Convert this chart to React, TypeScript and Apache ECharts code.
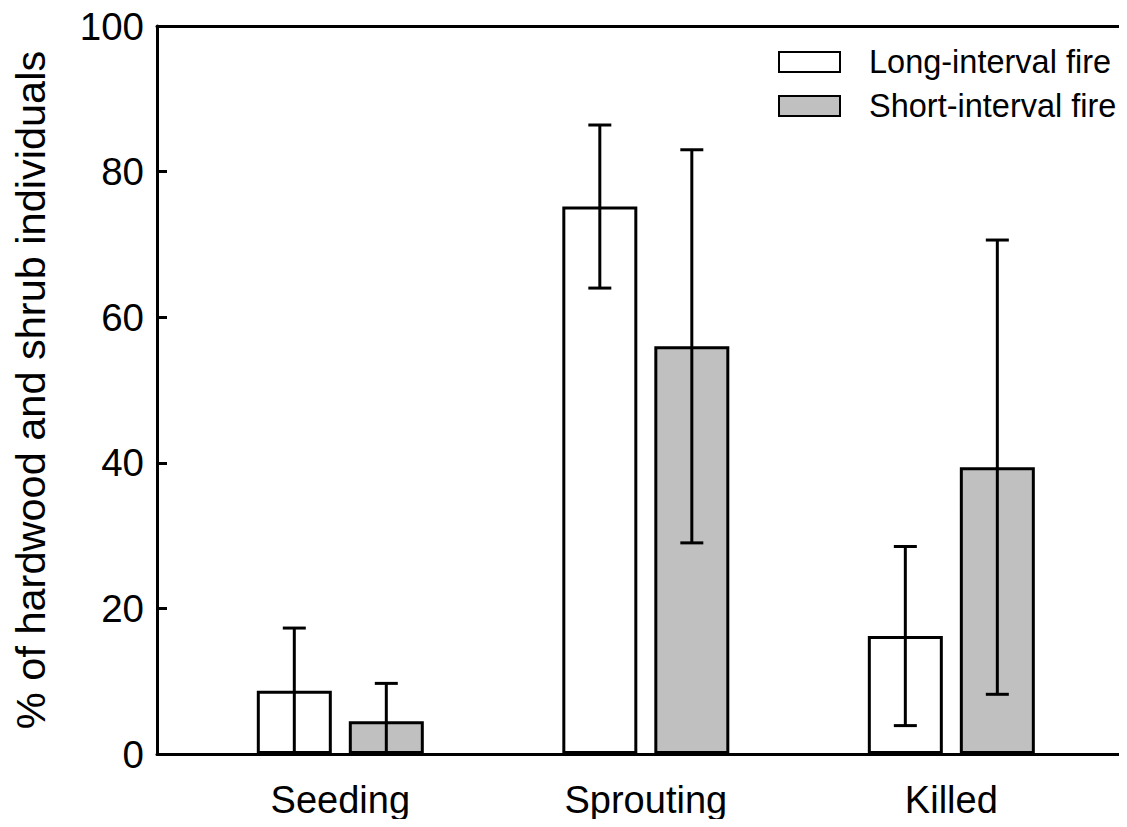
import React, { useEffect, useRef } from "react";
import * as echarts from "echarts";

const categories = ["Seeding", "Sprouting", "Killed"];
const categoryPositions = [1, 2, 3];
const seriesNames = ["Long-interval fire", "Short-interval fire"];
const longMeans = [8.7, 75.2, 16.2];
const longErr = [8.6, 11.2, 12.3];
const shortMeans = [4.5, 56.0, 39.4];
const shortErr = [5.2, 27.0, 31.2];
const yTicks = [0, 20, 40, 60, 80, 100];

const BAR_W = 75;
const BAR_GAP = 17;
const FONT = "Liberation Sans, Arial, Helvetica, sans-serif";

export default function App() {
  const ref = useRef<HTMLDivElement>(null);
  useEffect(() => {
    if (!ref.current) return;
    const chart = echarts.init(ref.current, undefined, { renderer: "svg" });
    const offset = (BAR_W + BAR_GAP) / 2;
    const errData = (means: number[], errs: number[], sign: number) =>
      categoryPositions.map((p, i) => [p, means[i] - errs[i], means[i] + errs[i], sign]);

    const renderErr = (params: any, api: any) => {
      const x = api.value(0);
      const lo = api.value(1);
      const hi = api.value(2);
      const sign = api.value(3);
      const top = api.coord([x, hi]);
      const bottomVal = Math.max(lo, 0);
      const bottom = api.coord([x, bottomVal]);
      const cx = top[0] + sign * offset;
      const cap = 11.5;
      const style = { stroke: "#000", lineWidth: 3 };
      const children: any[] = [
        { type: "line", shape: { x1: cx, y1: top[1], x2: cx, y2: bottom[1] }, style },
        { type: "line", shape: { x1: cx - cap, y1: top[1], x2: cx + cap, y2: top[1] }, style },
      ];
      if (lo >= 0) {
        children.push({ type: "line", shape: { x1: cx - cap, y1: bottom[1], x2: cx + cap, y2: bottom[1] }, style });
      }
      return { type: "group", children };
    };

    chart.setOption({
      animation: false,
      backgroundColor: "#fff",
      textStyle: { fontFamily: FONT, color: "#000" },
      grid: { left: 157, right: 0, top: 26, bottom: 73, containLabel: false },
      legend: {
        orient: "vertical",
        left: 778,
        top: 44,
        padding: 0,
        itemGap: 8,
        itemWidth: 61,
        itemHeight: 20,
        icon: "rect",
        data: seriesNames,
        textStyle: {
          fontFamily: FONT,
          fontSize: 32.5,
          lineHeight: 36,
          color: "#000",
          padding: [0, 0, 0, 24],
        },
        selectedMode: false,
      },
      xAxis: [
        {
          type: "value",
          min: 0.4,
          max: 3.575,
          position: "bottom",
          axisLine: { show: true, onZero: false, lineStyle: { color: "#000", width: 3 } },
          axisTick: { show: false },
          splitLine: { show: false },
          axisLabel: {
            customValues: categoryPositions,
            formatter: (v: number) => categories[categoryPositions.indexOf(Math.round(v))] ?? "",
            fontSize: 38,
            fontFamily: FONT,
            color: "#000",
            margin: 27,
          },
        },
        {
          type: "value",
          min: 0.4,
          max: 3.575,
          position: "top",
          axisLine: { show: true, onZero: false, lineStyle: { color: "#000", width: 3 } },
          axisTick: { show: false },
          splitLine: { show: false },
          axisLabel: { show: false },
        },
      ],
      yAxis: {
        type: "value",
        min: 0,
        max: 100,
        interval: 20,
        name: "% of hardwood and shrub individuals",
        nameLocation: "middle",
        nameGap: 106,
        nameTextStyle: { fontSize: 41.5, fontFamily: FONT, color: "#000" },
        axisLine: { show: true, lineStyle: { color: "#000", width: 3 } },
        axisTick: { show: true, inside: true, length: 10, lineStyle: { color: "#000", width: 3 } },
        splitLine: { show: false },
        axisLabel: {
          fontSize: 38.5,
          fontFamily: FONT,
          color: "#000",
          margin: 13,
          formatter: (v: number) => (yTicks.includes(v) ? String(v) : ""),
        },
      },
      series: [
        {
          name: seriesNames[0],
          type: "bar",
          barWidth: BAR_W,
          barGap: ((BAR_GAP / BAR_W) * 100).toFixed(2) + "%",
          itemStyle: { color: "#ffffff", borderColor: "#000", borderWidth: 3 },
          data: categoryPositions.map((p, i) => [p, longMeans[i]]),
          z: 2,
        },
        {
          name: seriesNames[1],
          type: "bar",
          barWidth: BAR_W,
          barGap: ((BAR_GAP / BAR_W) * 100).toFixed(2) + "%",
          itemStyle: { color: "#c0c0c0", borderColor: "#000", borderWidth: 3 },
          data: categoryPositions.map((p, i) => [p, shortMeans[i]]),
          z: 2,
        },
        {
          type: "custom",
          renderItem: renderErr,
          data: errData(longMeans, longErr, -1),
          z: 5,
          silent: true,
        },
        {
          type: "custom",
          renderItem: renderErr,
          data: errData(shortMeans, shortErr, 1),
          z: 5,
          silent: true,
        },
      ],
    });
    return () => chart.dispose();
  }, []);

  return <div ref={ref} style={{ width: 1127, height: 827, margin: -8 }} />;
}
